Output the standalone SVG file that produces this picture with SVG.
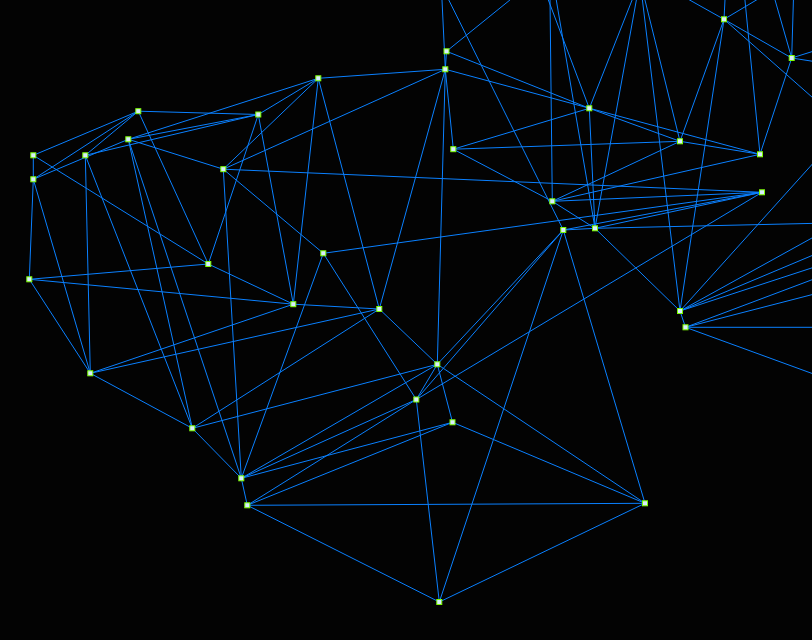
<svg xmlns="http://www.w3.org/2000/svg" width="812" height="640" viewBox="0 0 812 640">
<style>
#edges line{stroke:#0a80ff;stroke-width:1}
.n rect{fill:#d8ecff;stroke:#7cfc00;stroke-width:1}
</style>
<rect x="0" y="0" width="812" height="640" fill="#030303"/>
<g id="edges">
<line x1="446.5" y1="51.3" x2="445.3" y2="69.3"/>
<line x1="446.5" y1="51.3" x2="589.3" y2="108.3"/>
<line x1="446.5" y1="51.3" x2="547" y2="-30"/>
<line x1="445.3" y1="69.3" x2="441.3" y2="-15"/>
<line x1="563.3" y1="230" x2="441.3" y2="-15"/>
<line x1="445.3" y1="69.3" x2="318.3" y2="78.3"/>
<line x1="445.3" y1="69.3" x2="223.3" y2="169.2"/>
<line x1="445.3" y1="69.3" x2="453.3" y2="149.2"/>
<line x1="445.3" y1="69.3" x2="379.3" y2="309"/>
<line x1="445.3" y1="69.3" x2="437.3" y2="364.3"/>
<line x1="445.3" y1="69.3" x2="760" y2="154.3"/>
<line x1="318.3" y1="78.3" x2="258.3" y2="114.5"/>
<line x1="318.3" y1="78.3" x2="128.3" y2="139.3"/>
<line x1="318.3" y1="78.3" x2="223.3" y2="169.2"/>
<line x1="318.3" y1="78.3" x2="293.3" y2="304.2"/>
<line x1="318.3" y1="78.3" x2="379.3" y2="309"/>
<line x1="138.3" y1="111.2" x2="258.3" y2="114.5"/>
<line x1="138.3" y1="111.2" x2="33.3" y2="155.3"/>
<line x1="138.3" y1="111.2" x2="85.3" y2="155.3"/>
<line x1="138.3" y1="111.2" x2="33.3" y2="179.3"/>
<line x1="138.3" y1="111.2" x2="208.3" y2="264"/>
<line x1="258.3" y1="114.5" x2="128.3" y2="139.3"/>
<line x1="258.3" y1="114.5" x2="85.3" y2="155.3"/>
<line x1="258.3" y1="114.5" x2="208.3" y2="264"/>
<line x1="258.3" y1="114.5" x2="293.3" y2="304.2"/>
<line x1="128.3" y1="139.3" x2="223.3" y2="169.2"/>
<line x1="128.3" y1="139.3" x2="33.3" y2="179.3"/>
<line x1="128.3" y1="139.3" x2="192.3" y2="428.3"/>
<line x1="128.3" y1="139.3" x2="241.3" y2="478.3"/>
<line x1="33.3" y1="155.3" x2="33.3" y2="179.3"/>
<line x1="33.3" y1="155.3" x2="208.3" y2="264"/>
<line x1="85.3" y1="155.3" x2="90.3" y2="373.3"/>
<line x1="85.3" y1="155.3" x2="192.3" y2="428.3"/>
<line x1="223.3" y1="169.2" x2="762" y2="192.3"/>
<line x1="223.3" y1="169.2" x2="323.3" y2="253.3"/>
<line x1="223.3" y1="169.2" x2="241.3" y2="478.3"/>
<line x1="33.3" y1="179.3" x2="29.3" y2="279.3"/>
<line x1="33.3" y1="179.3" x2="90.3" y2="373.3"/>
<line x1="453.3" y1="149.2" x2="680" y2="141.3"/>
<line x1="453.3" y1="149.2" x2="589.3" y2="108.3"/>
<line x1="453.3" y1="149.2" x2="552.3" y2="201.3"/>
<line x1="589.3" y1="108.3" x2="680" y2="141.3"/>
<line x1="589.3" y1="108.3" x2="595" y2="228.3"/>
<line x1="589.3" y1="108.3" x2="540.8" y2="-20"/>
<line x1="552.3" y1="201.3" x2="549.8" y2="-20"/>
<line x1="595" y1="228.3" x2="552.9" y2="-20"/>
<line x1="640" y1="-20" x2="589.3" y2="108.3"/>
<line x1="640" y1="-20" x2="595" y2="228.3"/>
<line x1="640" y1="-20" x2="680" y2="141.3"/>
<line x1="640" y1="-20" x2="680" y2="311"/>
<line x1="680" y1="141.3" x2="760" y2="154.3"/>
<line x1="680" y1="141.3" x2="724" y2="19.3"/>
<line x1="680" y1="141.3" x2="552.3" y2="201.3"/>
<line x1="760" y1="154.3" x2="791.7" y2="58"/>
<line x1="760" y1="154.3" x2="552.3" y2="201.3"/>
<line x1="760" y1="154.3" x2="743" y2="-20"/>
<line x1="724" y1="19.3" x2="791.7" y2="58"/>
<line x1="724" y1="19.3" x2="680" y2="311"/>
<line x1="724" y1="19.3" x2="654" y2="-20"/>
<line x1="724" y1="19.3" x2="726" y2="-20"/>
<line x1="724" y1="19.3" x2="790" y2="-20"/>
<line x1="724" y1="19.3" x2="830" y2="113"/>
<line x1="791.7" y1="58" x2="769.3" y2="-20"/>
<line x1="791.7" y1="58" x2="794" y2="-20"/>
<line x1="791.7" y1="58" x2="830" y2="46"/>
<line x1="791.7" y1="58" x2="830" y2="64"/>
<line x1="552.3" y1="201.3" x2="762" y2="192.3"/>
<line x1="552.3" y1="201.3" x2="595" y2="228.3"/>
<line x1="563.3" y1="230" x2="595" y2="228.3"/>
<line x1="563.3" y1="230" x2="762" y2="192.3"/>
<line x1="563.3" y1="230" x2="437.3" y2="364.3"/>
<line x1="563.3" y1="230" x2="416.3" y2="399.5"/>
<line x1="563.3" y1="230" x2="439.3" y2="602"/>
<line x1="563.3" y1="230" x2="645" y2="503.3"/>
<line x1="595" y1="228.3" x2="762" y2="192.3"/>
<line x1="595" y1="228.3" x2="680" y2="311"/>
<line x1="595" y1="228.3" x2="830" y2="223"/>
<line x1="680" y1="311" x2="830" y2="144.5"/>
<line x1="680" y1="311" x2="685.5" y2="327.3"/>
<line x1="680" y1="311" x2="830" y2="228"/>
<line x1="680" y1="311" x2="830" y2="248"/>
<line x1="680" y1="311" x2="830" y2="262"/>
<line x1="685.5" y1="327.3" x2="830" y2="273"/>
<line x1="685.5" y1="327.3" x2="830" y2="290"/>
<line x1="685.5" y1="327.3" x2="830" y2="327.3"/>
<line x1="685.5" y1="327.3" x2="830" y2="380"/>
<line x1="208.3" y1="264" x2="29.3" y2="279.3"/>
<line x1="208.3" y1="264" x2="293.3" y2="304.2"/>
<line x1="323.3" y1="253.3" x2="762" y2="192.3"/>
<line x1="323.3" y1="253.3" x2="241.3" y2="478.3"/>
<line x1="323.3" y1="253.3" x2="416.3" y2="399.5"/>
<line x1="29.3" y1="279.3" x2="293.3" y2="304.2"/>
<line x1="29.3" y1="279.3" x2="90.3" y2="373.3"/>
<line x1="293.3" y1="304.2" x2="379.3" y2="309"/>
<line x1="293.3" y1="304.2" x2="90.3" y2="373.3"/>
<line x1="379.3" y1="309" x2="90.3" y2="373.3"/>
<line x1="379.3" y1="309" x2="192.3" y2="428.3"/>
<line x1="379.3" y1="309" x2="437.3" y2="364.3"/>
<line x1="90.3" y1="373.3" x2="192.3" y2="428.3"/>
<line x1="192.3" y1="428.3" x2="437.3" y2="364.3"/>
<line x1="192.3" y1="428.3" x2="241.3" y2="478.3"/>
<line x1="241.3" y1="478.3" x2="247.3" y2="505.3"/>
<line x1="241.3" y1="478.3" x2="437.3" y2="364.3"/>
<line x1="241.3" y1="478.3" x2="416.3" y2="399.5"/>
<line x1="241.3" y1="478.3" x2="452.5" y2="422.3"/>
<line x1="247.3" y1="505.3" x2="416.3" y2="399.5"/>
<line x1="247.3" y1="505.3" x2="452.5" y2="422.3"/>
<line x1="247.3" y1="505.3" x2="645" y2="503.3"/>
<line x1="247.3" y1="505.3" x2="439.3" y2="602"/>
<line x1="437.3" y1="364.3" x2="416.3" y2="399.5"/>
<line x1="437.3" y1="364.3" x2="452.5" y2="422.3"/>
<line x1="437.3" y1="364.3" x2="645" y2="503.3"/>
<line x1="416.3" y1="399.5" x2="762" y2="192.3"/>
<line x1="416.3" y1="399.5" x2="439.3" y2="602"/>
<line x1="452.5" y1="422.3" x2="645" y2="503.3"/>
<line x1="645" y1="503.3" x2="439.3" y2="602"/>
</g>
<g class="n" id="nA"><rect x="444" y="48.8" width="5" height="5"/></g>
<g class="n" id="nB"><rect x="442.8" y="66.8" width="5" height="5"/></g>
<g class="n" id="nC"><rect x="315.8" y="75.8" width="5" height="5"/></g>
<g class="n" id="nD"><rect x="135.8" y="108.7" width="5" height="5"/></g>
<g class="n" id="nE"><rect x="255.8" y="112" width="5" height="5"/></g>
<g class="n" id="nF"><rect x="125.8" y="136.8" width="5" height="5"/></g>
<g class="n" id="nG"><rect x="30.8" y="152.8" width="5" height="5"/></g>
<g class="n" id="nH"><rect x="82.8" y="152.8" width="5" height="5"/></g>
<g class="n" id="nI"><rect x="220.8" y="166.7" width="5" height="5"/></g>
<g class="n" id="nJ"><rect x="30.8" y="176.8" width="5" height="5"/></g>
<g class="n" id="nK"><rect x="450.8" y="146.7" width="5" height="5"/></g>
<g class="n" id="nL"><rect x="586.8" y="105.8" width="5" height="5"/></g>
<g class="n" id="nM"><rect x="677.5" y="138.8" width="5" height="5"/></g>
<g class="n" id="nN"><rect x="757.5" y="151.8" width="5" height="5"/></g>
<g class="n" id="nO"><rect x="721.5" y="16.8" width="5" height="5"/></g>
<g class="n" id="nP"><rect x="789.2" y="55.5" width="5" height="5"/></g>
<g class="n" id="nQ"><rect x="549.8" y="198.8" width="5" height="5"/></g>
<g class="n" id="nR"><rect x="759.5" y="189.8" width="5" height="5"/></g>
<g class="n" id="nS"><rect x="560.8" y="227.5" width="5" height="5"/></g>
<g class="n" id="nT"><rect x="592.5" y="225.8" width="5" height="5"/></g>
<g class="n" id="nU"><rect x="205.8" y="261.5" width="5" height="5"/></g>
<g class="n" id="nV"><rect x="320.8" y="250.8" width="5" height="5"/></g>
<g class="n" id="nW"><rect x="26.8" y="276.8" width="5" height="5"/></g>
<g class="n" id="nX"><rect x="290.8" y="301.7" width="5" height="5"/></g>
<g class="n" id="nY"><rect x="376.8" y="306.5" width="5" height="5"/></g>
<g class="n" id="nZ"><rect x="677.5" y="308.5" width="5" height="5"/></g>
<g class="n" id="nAA"><rect x="683" y="324.8" width="5" height="5"/></g>
<g class="n" id="nAB"><rect x="87.8" y="370.8" width="5" height="5"/></g>
<g class="n" id="nAC"><rect x="434.8" y="361.8" width="5" height="5"/></g>
<g class="n" id="nAD"><rect x="413.8" y="397" width="5" height="5"/></g>
<g class="n" id="nAE"><rect x="450" y="419.8" width="5" height="5"/></g>
<g class="n" id="nAF"><rect x="189.8" y="425.8" width="5" height="5"/></g>
<g class="n" id="nAG"><rect x="238.8" y="475.8" width="5" height="5"/></g>
<g class="n" id="nAH"><rect x="244.8" y="502.8" width="5" height="5"/></g>
<g class="n" id="nAI"><rect x="642.5" y="500.8" width="5" height="5"/></g>
<g class="n" id="nAJ"><rect x="436.8" y="599.5" width="5" height="5"/></g>
</svg>
